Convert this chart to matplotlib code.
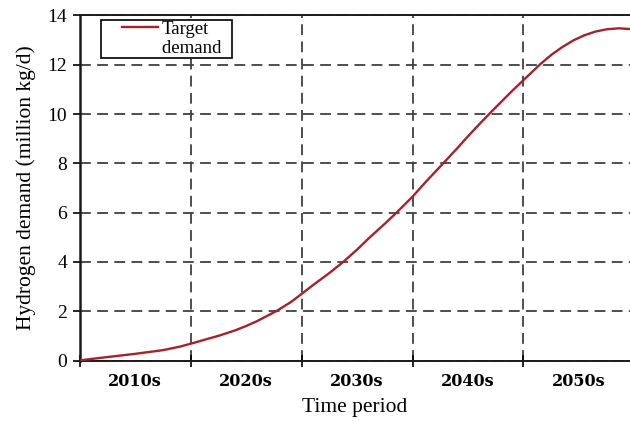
#!/usr/bin/python
#
# Hydrogen target demand by decade.

import matplotlib
matplotlib.use('Agg')
import matplotlib.pyplot as plt
from matplotlib.lines import Line2D
from matplotlib.legend_handler import HandlerLine2D

# Curve, x in decades from the start of the 2010s.
decade_pos = [0, 0.1, 0.25, 0.5, 0.75, 0.9, 1.0, 1.1, 1.25, 1.4, 1.5, 1.6, 1.77, 1.9,
              2.0, 2.1, 2.25, 2.37, 2.5, 2.62, 2.75, 2.86, 3.0, 3.13, 3.27, 3.4, 3.5,
              3.6, 3.69, 3.8, 3.9, 4.0, 4.08, 4.15, 4.25, 4.35, 4.45, 4.55, 4.65, 4.75,
              4.86, 4.96]
demand     = [0, 0.06, 0.14, 0.27, 0.42, 0.56, 0.68, 0.81, 1.0, 1.22, 1.4, 1.6, 2.0, 2.36,
              2.7, 3.05, 3.55, 3.98, 4.5, 5.02, 5.55, 6.02, 6.65, 7.3, 7.97, 8.6, 9.1,
              9.58, 10.0, 10.5, 10.95, 11.38, 11.72, 12.02, 12.4, 12.72, 12.99, 13.2, 13.35, 13.44,
              13.48, 13.45]

decade_labels = ['2010s', '2020s', '2030s', '2040s', '2050s']
decade_edges  = [0, 1, 2, 3, 4]
y_ticks       = [0, 2, 4, 6, 8, 10, 12, 14]

serif = 'Liberation Serif'

def main():
    fig = plt.figure(figsize=(6.3, 4.21), dpi=100)
    ax  = fig.add_axes([0.1265, 0.1437, 0.8735, 0.8195])

    line, = ax.plot(decade_pos, demand, color='#a3232b', lw=1.7, zorder=3)

    ax.set_xlim(0, 4.96)
    ax.set_ylim(0, 14)

    # Grid at decade boundaries, labels centred in each decade
    ax.set_xticks(decade_edges)
    ax.set_xticklabels([])
    ax.set_xticks([i + 0.5 for i in range(len(decade_labels))], minor=True)
    ax.set_xticklabels(decade_labels, minor=True, family='DejaVu Serif',
                       fontweight='bold', fontsize=11.5)
    ax.tick_params(axis='x', which='major', direction='inout', length=8, width=1.2)
    ax.tick_params(axis='x', which='minor', length=0, pad=9)

    ax.set_yticks(y_ticks)
    ax.set_yticklabels([str(v) for v in y_ticks], family=serif, fontsize=14)
    ax.tick_params(axis='y', direction='out', length=5, width=1.2, pad=4)

    ax.grid(True, which='major', color='#404040', lw=1.3, ls=(0, (6, 3.5)))

    for side in ['left', 'bottom', 'top']:
        ax.spines[side].set_linewidth(1.4)
        ax.spines[side].set_color('#1a1a1a')
    ax.spines['left'].set_linewidth(1.8)
    ax.spines['right'].set_visible(False)

    ax.set_xlabel('Time period', family=serif, fontsize=15.5, labelpad=6)
    ax.set_ylabel('Hydrogen demand (million kg/d)', family=serif, fontsize=15.5, labelpad=8)

    # Legend: line sits on first text row only
    blank = Line2D([], [], alpha=0)
    leg = ax.legend([line, blank], ['Target', 'demand  '],
                    loc='upper left', bbox_to_anchor=(0.039, 0.987),
                    prop={'family': serif, 'size': 13.5},
                    handlelength=3.0, handletextpad=0.2, borderpad=0.05,
                    labelspacing=0.08, fancybox=False, framealpha=1,
                    edgecolor='black', borderaxespad=0,
                    handler_map={line: HandlerLine2D(xpad=1.06)})
    leg.get_frame().set_linewidth(1.2)

    plt.savefig('out.png', dpi=100)
#END: main

if(__name__ == '__main__'):
    main()
